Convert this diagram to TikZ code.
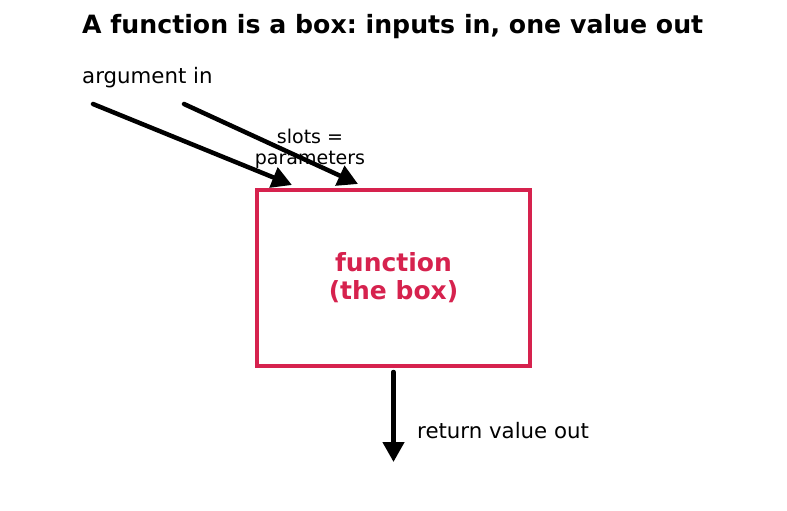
\documentclass[tikz,border=0pt]{standalone}
\usepackage{fontspec}
\setmainfont{DejaVu Sans}
\usetikzlibrary{arrows.meta}
\definecolor{crim}{RGB}{214,34,78}
\tikzset{
  flow/.style={line width=4.5pt, line cap=round, -{Triangle[length=20pt,width=21pt]}},
  boxstyle/.style={draw=crim, line width=4pt, minimum width=273pt, minimum height=176pt, inner sep=0pt},
}
\begin{document}
\frenchspacing
\begin{tikzpicture}[x=1pt,y=-1pt]
\useasboundingbox (0,0) rectangle (787,511);
\node[anchor=base west, inner sep=0pt, font=\fontsize{25.2}{30}\selectfont\bfseries] (title) at (82,34) {A function is a box: inputs in, one value out};
\node[anchor=base west, inner sep=0pt, font=\fontsize{21.3}{25}\selectfont] (arg) at (82,84) {argument in};
\node[boxstyle] (fn) at (393.5,278) {};
\node[anchor=base, align=center, inner sep=0pt, text=crim, font=\fontsize{25}{28}\selectfont\bfseries] (fnlabel) at (393.5,299) {function\\(the box)};
\node[anchor=base, align=center, inner sep=0pt, font=\fontsize{19}{21}\selectfont] (slots) at (310,164) {slots =\\parameters};
\node[anchor=base west, inner sep=0pt, font=\fontsize{21.3}{25}\selectfont] (ret) at (417,438) {return value out};
\coordinate (a1s) at (93,104);
\coordinate (a1e) at (292,185);
\coordinate (a2s) at (184,104);
\coordinate (a2e) at (358,184);
\coordinate (outs) at (393.5,372);
\coordinate (oute) at (393.5,462);
\draw[flow] (a1s) -- (a1e);
\draw[flow] (a2s) -- (a2e);
\draw[flow] (outs) -- (oute);
\end{tikzpicture}
\end{document}
